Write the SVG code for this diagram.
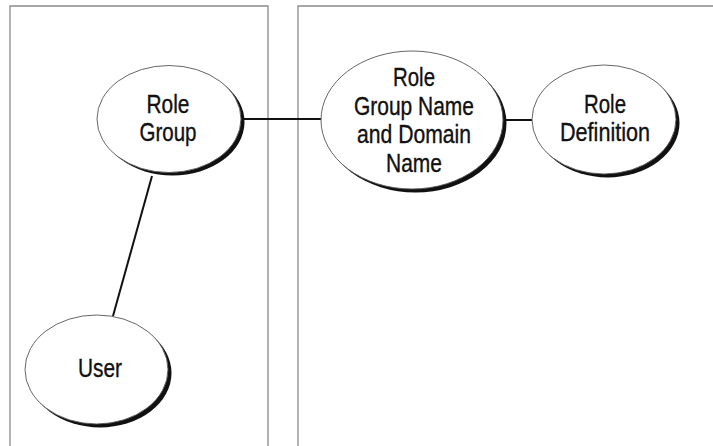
<svg xmlns="http://www.w3.org/2000/svg" width="713" height="446" viewBox="0 0 713 446">
<style>
.panel{fill:none;stroke:#8a8a8a;stroke-width:1.3}
.shadow{fill:#111}
.node{fill:#fff;stroke:#555;stroke-width:0.9}
.edge{stroke:#111;stroke-width:2;fill:none}
.t{font-family:"Liberation Sans",Arial,sans-serif;font-size:25px;fill:#111;stroke:#111;stroke-width:0.35;text-anchor:middle}
</style>
<rect width="713" height="446" fill="#fff"/>
<g id="panels">
<path class="panel" d="M10,450 V6 H268 V450"/>
<path class="panel" d="M298,450 V6 H720"/>
</g>
<g id="connectors">
<line class="edge" x1="240" y1="119" x2="322" y2="119"/>
<line class="edge" x1="502" y1="120" x2="533" y2="120"/>
<line class="edge" x1="152" y1="176" x2="113" y2="316"/>
</g>
<g id="role-group">
<ellipse class="shadow" cx="172.5" cy="122" rx="72" ry="53.5"/>
<ellipse class="node" cx="169" cy="119" rx="72" ry="53.5"/>
<text class="t" x="168" y="113" textLength="43" lengthAdjust="spacingAndGlyphs">Role</text>
<text class="t" x="168" y="141" textLength="57" lengthAdjust="spacingAndGlyphs">Group</text>
</g>
<g id="role-group-name">
<ellipse class="shadow" cx="415.5" cy="123.5" rx="91" ry="69"/>
<ellipse class="node" cx="412" cy="120" rx="91" ry="69"/>
<text class="t" x="414" y="86" textLength="42" lengthAdjust="spacingAndGlyphs">Role</text>
<text class="t" x="414" y="114.5" textLength="120" lengthAdjust="spacingAndGlyphs">Group Name</text>
<text class="t" x="414" y="143" textLength="114" lengthAdjust="spacingAndGlyphs">and Domain</text>
<text class="t" x="414" y="171.5" textLength="56" lengthAdjust="spacingAndGlyphs">Name</text>
</g>
<g id="role-definition">
<ellipse class="shadow" cx="607.5" cy="123" rx="72" ry="54.5"/>
<ellipse class="node" cx="604" cy="119.5" rx="72" ry="54.5"/>
<text class="t" x="605" y="113" textLength="42" lengthAdjust="spacingAndGlyphs">Role</text>
<text class="t" x="605" y="141" textLength="90" lengthAdjust="spacingAndGlyphs">Definition</text>
</g>
<g id="user">
<ellipse class="shadow" cx="100" cy="373" rx="71.5" ry="54.5"/>
<ellipse class="node" cx="96.5" cy="369.5" rx="71.5" ry="54.5"/>
<text class="t" x="100" y="377" textLength="44" lengthAdjust="spacingAndGlyphs">User</text>
</g>
</svg>
